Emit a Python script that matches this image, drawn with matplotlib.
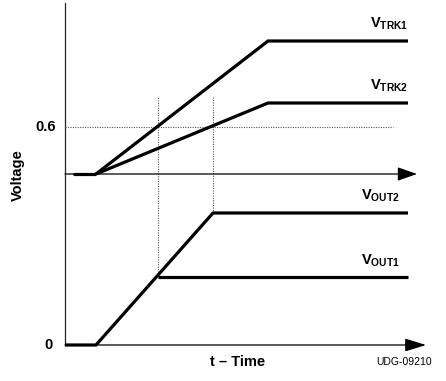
import matplotlib.pyplot as plt

plt.rcParams['font.family'] = ['Liberation Sans', 'DejaVu Sans']
plt.rcParams['mathtext.fontset'] = 'custom'
plt.rcParams['mathtext.rm'] = 'Liberation Sans'
plt.rcParams['mathtext.bf'] = 'Liberation Sans:bold'

# time points (arbitrary units, t=0 at the vertical axis)
t_start = 0
t_ramp = 31        # all rails start ramping
t_out1 = 93        # VOUT1 reaches its set point
t_out2 = 148       # VOUT2 reaches its set point
t_trk = 203        # tracking inputs settle
t_end = 343        # end of traces

# upper panel: tracking voltages (relative to the upper baseline)
trk_pre = [8, t_ramp]
trk1_t = [t_ramp, t_trk, t_end]
trk1_v = [0, 133, 133]
trk2_t = [t_ramp, t_trk, t_end]
trk2_v = [0, 71, 71]
v_ref = 47         # 0.6 V reference level

# lower panel: output voltages
out2_t = [t_start, t_ramp, t_out2, t_end]
out2_v = [0, 0, 132, 132]
out1_t = [t_out1, t_end]
out1_v = [68, 68]

upper_base = 207
lower_base = 36

fig = plt.figure(figsize=(4.46, 3.81), dpi=100)
ax = fig.add_axes([0, 0, 1, 1])
ax.set_xlim(-65, 381)
ax.set_ylim(0, 381)
ax.axis('off')

# axes
ax.plot([0, 0], [lower_base, 378], color='#222222', lw=0.9)
ax.annotate('', xy=(361, lower_base), xytext=(0, lower_base),
            arrowprops=dict(arrowstyle='-|>,head_length=13,head_width=4',
                            mutation_scale=1, lw=0.9, color='black',
                            shrinkA=0, shrinkB=0))
ax.annotate('', xy=(352, upper_base), xytext=(0, upper_base),
            arrowprops=dict(arrowstyle='-|>,head_length=12,head_width=4.2',
                            mutation_scale=1, lw=0.9, color='black',
                            shrinkA=0, shrinkB=0))

# guide lines
dot = dict(color='#555555', lw=0.8, ls=(0, (1, 1.2)))
ax.plot([0, 328], [upper_base + v_ref] * 2, **dot)
ax.plot([t_out1, t_out1], [lower_base + out1_v[0], upper_base + 78], **dot)
ax.plot([t_out2, t_out2], [lower_base + out2_v[-1], upper_base + 78], **dot)

# traces
lw = 2.3
ax.plot(trk_pre, [upper_base] * 2, color='black', lw=lw, solid_capstyle='butt')
ax.plot(trk1_t, [upper_base + v for v in trk1_v], color='black', lw=lw,
        solid_capstyle='butt', solid_joinstyle='miter')
ax.plot(trk2_t, [upper_base + v for v in trk2_v], color='black', lw=lw,
        solid_capstyle='butt', solid_joinstyle='miter')
ax.plot(out2_t, [lower_base + v for v in out2_v], color='black', lw=lw,
        solid_capstyle='butt', solid_joinstyle='miter')
ax.plot(out1_t, [lower_base + v for v in out1_v], color='black', lw=lw,
        solid_capstyle='butt')

# labels
fs = 10.5
lab = dict(ha='right', va='center', fontsize=fs)
ax.text(343, 357, r'$\mathbf{V}_{\mathbf{TRK1}}$', **lab)
ax.text(343, 295, r'$\mathbf{V}_{\mathbf{TRK2}}$', **lab)
ax.text(335, 185, r'$\mathbf{V}_{\mathbf{OUT2}}$', **lab)
ax.text(335, 120, r'$\mathbf{V}_{\mathbf{OUT1}}$', **lab)

ax.text(-9, upper_base + v_ref, '0.6', ha='right', va='center', fontsize=fs, fontweight='bold')
ax.text(-12, lower_base, '0', ha='right', va='center', fontsize=fs, fontweight='bold')
ax.text(-47, 206, 'Voltage', ha='center', va='center', rotation=90, fontsize=fs, fontweight='bold')
ax.text(173, 19, 't \u2013 Time', ha='center', va='center', fontsize=fs, fontweight='bold')
ax.text(367, 19, 'UDG-09210', ha='right', va='center', fontsize=7.5)

fig.savefig('out.png', dpi=100)
